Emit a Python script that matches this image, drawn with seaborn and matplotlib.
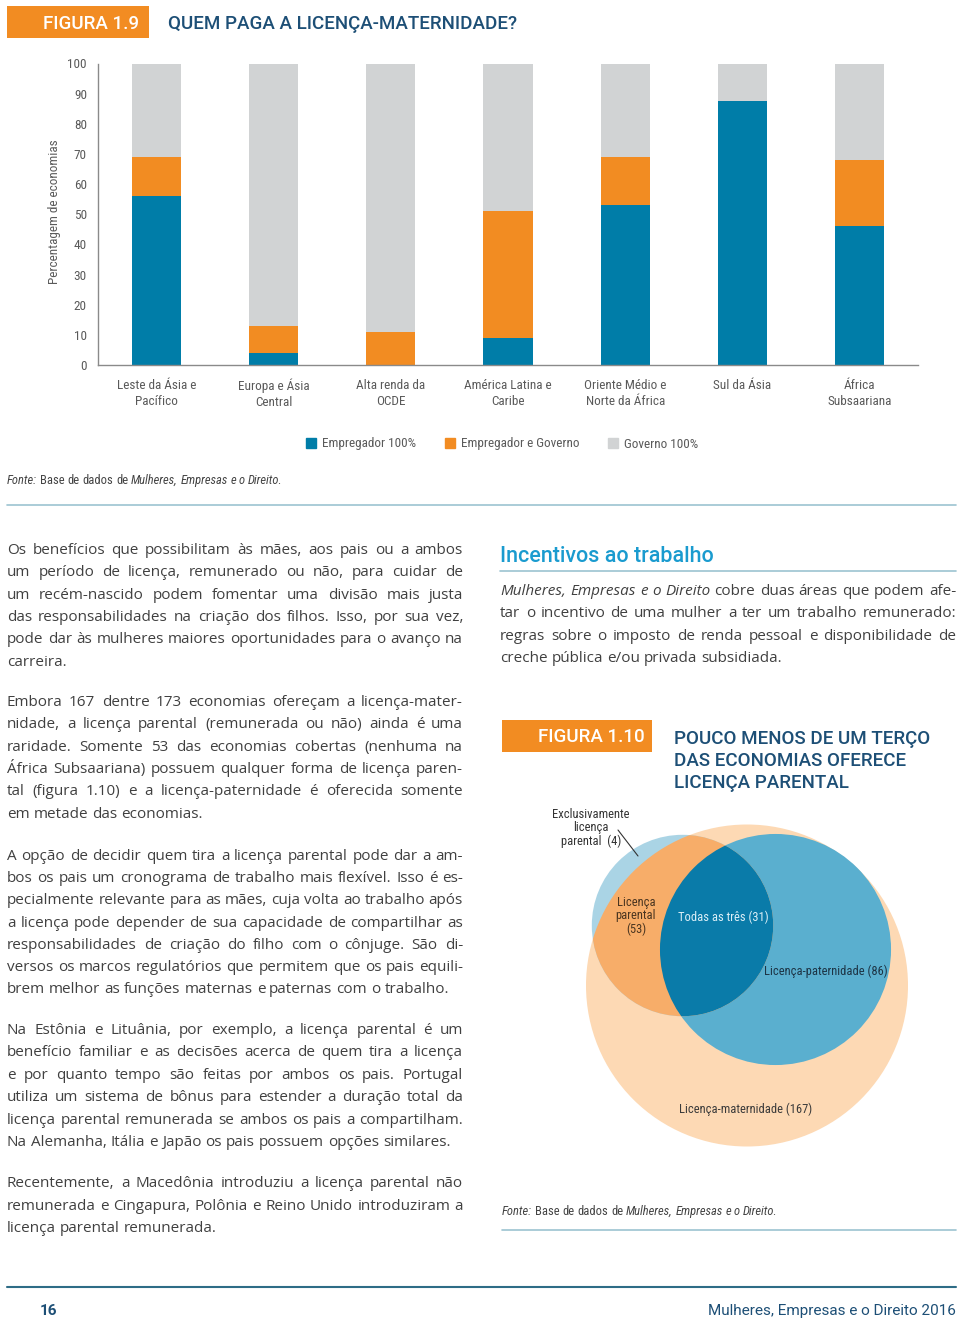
import numpy as np
import pandas as pd
import matplotlib
matplotlib.use("Agg")
import matplotlib.pyplot as plt
from matplotlib import font_manager
from matplotlib.patches import Circle, Rectangle, Patch
from matplotlib.lines import Line2D
import seaborn as sns

# ---- dados da figura 1.9 ----
regioes = ["Leste da Ásia e\nPacífico", "Europa e Ásia\nCentral", "Alta renda da\nOCDE",
           "América Latina e\nCaribe", "Oriente Médio e\nNorte da África", "Sul da Ásia",
           "África\nSubsaariana"]
empregador = [56, 4, 0, 9, 53, 87.5, 46]
empregador_governo = [13, 9, 11, 42, 16, 0, 22]
governo = [31, 87, 89, 49, 31, 12.5, 32]
series = ["Empregador 100%", "Empregador e Governo", "Governo 100%"]
yticks = [0, 10, 20, 30, 40, 50, 60, 70, 80, 90, 100]

# ---- dados da figura 1.10 ----
n_maternidade = 167
n_paternidade = 86
n_parental = 53
n_todas = 31
n_so_parental = 4

AZUL = "#007DA8"
LARANJA = "#F28C22"
CINZA = "#D1D3D4"
TITULO = "#1D4F76"
TEXTO = "#404040"
CINZA_TXT = "#5a5a5a"
LINHA = "#9CC3D1"

W, H = 960, 1324


def disponivel(nomes):
    for n in nomes:
        try:
            font_manager.findfont(font_manager.FontProperties(family=n), fallback_to_default=False)
            return n
        except ValueError:
            pass
    return "DejaVu Sans"


sns.set_style("white")
COND = disponivel(["Liberation Sans Narrow", "Roboto Condensed", "Open Sans Condensed", "Lato"])
CORPO = disponivel(["Open Sans", "Lato", "Noto Sans"])
CAB = disponivel(["Roboto", "Inter", "Noto Sans"])
plt.rcParams["font.family"] = [CORPO, "DejaVu Sans"]

fig = plt.figure(figsize=(W / 100, H / 100), dpi=100, facecolor="white")
renderer = fig.canvas.get_renderer()


def fx(x):
    return x / W


def fy(y):
    return 1 - y / H


def hline(x0, x1, y, cor=LINHA, lw=1.2):
    fig.add_artist(Line2D([fx(x0), fx(x1)], [fy(y), fy(y)], transform=fig.transFigure, color=cor, lw=lw))


def caixa(x0, y0, x1, y1, cor):
    fig.add_artist(Rectangle((fx(x0), fy(y1)), (x1 - x0) / W, (y1 - y0) / H,
                             transform=fig.transFigure, color=cor, lw=0))


_cache = {}


def largura(s, estilo, tam, familia):
    k = (s, estilo, tam, familia)
    if k not in _cache:
        t = fig.text(0, 0, s, fontsize=tam, fontstyle=estilo, family=familia)
        _cache[k] = t.get_window_extent(renderer).width
        t.remove()
    return _cache[k]


def tokens(linha):
    out, ital = [], False
    for w in linha.split(" "):
        if w.startswith("*"):
            ital, w = True, w[1:]
        fim = w.endswith("*")
        if fim:
            w = w[:-1]
        out.append((w, "italic" if ital else "normal"))
        if fim:
            ital = False
    return out


def escreve(x0, yb, texto, tam, familia, cor, total=None):
    toks = tokens(texto)
    ws = [largura(w, e, tam, familia) for w, e in toks]
    esp = largura("a a", "normal", tam, familia) - largura("aa", "normal", tam, familia)
    if total and len(toks) > 1:
        esp = (total - sum(ws)) / (len(toks) - 1)
    x = x0
    for (w, e), lw in zip(toks, ws):
        fig.text(fx(x), fy(yb), w, fontsize=tam, fontstyle=e, family=familia, color=cor,
                 va="baseline", ha="left")
        x += lw + esp


def paragrafo(x0, x1, y0, linhas, tam=11.0, lh=22.3):
    for i, l in enumerate(linhas):
        just = (x1 - x0) if i < len(linhas) - 1 else None
        escreve(x0, y0 + i * lh, l, tam, CORPO, TEXTO, just)


# ---------------- figura 1.9 ----------------
caixa(7, 6, 149, 38, LARANJA)
fig.text(fx(139), fy(29), "FIGURA 1.9", color="white", fontsize=13.5, family=CAB,
         fontweight="medium", ha="right", va="baseline")
fig.text(fx(168), fy(29), "QUEM PAGA A LICENÇA-MATERNIDADE?", color=TITULO, fontsize=13.5,
         family=CAB, fontweight="medium", ha="left", va="baseline")

ax = fig.add_axes([fx(98), fy(365), (918 - 98) / W, (365 - 63.5) / H])
df = pd.DataFrame({"regiao": regioes, "emp": empregador, "misto": empregador_governo, "gov": governo})
df["topo_misto"] = df["emp"] + df["misto"]
df["topo_gov"] = df["topo_misto"] + df["gov"]
sns.barplot(data=df, x="regiao", y="topo_gov", color=CINZA, saturation=1, width=0.42, linewidth=0, ax=ax)
sns.barplot(data=df, x="regiao", y="topo_misto", color=LARANJA, saturation=1, width=0.42, linewidth=0, ax=ax)
sns.barplot(data=df, x="regiao", y="emp", color=AZUL, saturation=1, width=0.42, linewidth=0, ax=ax)
ax.set_xlim(-0.5, 6.5)
ax.set_ylim(0, 100)
ax.set_yticks(yticks)
ax.set_xlabel("")
ax.set_ylabel("Percentagem de economias", fontsize=9.5, color=CINZA_TXT, family=COND)
ax.yaxis.set_label_coords(-0.045, 0.51)
sns.despine(ax=ax)
for s in ["left", "bottom"]:
    ax.spines[s].set_color("#8a8a8a")
    ax.spines[s].set_linewidth(1)
ax.tick_params(axis="y", length=5, width=0.8, color="#8a8a8a", labelcolor=CINZA_TXT, labelsize=9.5, pad=3)
ax.tick_params(axis="x", length=0, labelcolor=CINZA_TXT, labelsize=9.5, pad=10)
for lbl in ax.get_xticklabels() + ax.get_yticklabels():
    lbl.set_family(COND)
for lbl in ax.get_xticklabels():
    lbl.set_linespacing(1.3)

handles = [Patch(color=c) for c in [AZUL, LARANJA, CINZA]]
leg = ax.legend(handles, series, loc="center", bbox_to_anchor=(fx(502), fy(444)),
                bbox_transform=fig.transFigure, ncol=3, frameon=False, handlelength=0.75,
                handleheight=0.75, handletextpad=0.45, columnspacing=2.2,
                prop={"family": COND, "size": 9.5})
for t in leg.get_texts():
    t.set_color(CINZA_TXT)

escreve(7, 484, "*Fonte:* Base de dados de *Mulheres, Empresas e o Direito.*", 9, COND, "#444444")
hline(7, 956, 505)

# ---------------- texto ----------------
paragrafo(7, 463, 554, [
    "Os benefícios que possibilitam às mães, aos pais ou a ambos",
    "um período de licença, remunerado ou não, para cuidar de",
    "um recém-nascido podem fomentar uma divisão mais justa",
    "das responsabilidades na criação dos filhos. Isso, por sua vez,",
    "pode dar às mulheres maiores oportunidades para o avanço na",
    "carreira."])
paragrafo(7, 463, 706, [
    "Embora 167 dentre 173 economias ofereçam a licença-mater-",
    "nidade, a licença parental (remunerada ou não) ainda é uma",
    "raridade. Somente 53 das economias cobertas (nenhuma na",
    "África Subsaariana) possuem qualquer forma de licença paren-",
    "tal (figura 1.10) e a licença-paternidade é oferecida somente",
    "em metade das economias."])
paragrafo(7, 463, 860, [
    "A opção de decidir quem tira a licença parental pode dar a am-",
    "bos os pais um cronograma de trabalho mais flexível. Isso é es-",
    "pecialmente relevante para as mães, cuja volta ao trabalho após",
    "a licença pode depender de sua capacidade de compartilhar as",
    "responsabilidades de criação do filho com o cônjuge. São di-",
    "versos os marcos regulatórios que permitem que os pais equili-",
    "brem melhor as funções maternas e paternas com o trabalho."], lh=22.2)
paragrafo(7, 463, 1034, [
    "Na Estônia e Lituânia, por exemplo, a licença parental é um",
    "benefício familiar e as decisões acerca de quem tira a licença",
    "e por quanto tempo são feitas por ambos os pais. Portugal",
    "utiliza um sistema de bônus para estender a duração total da",
    "licença parental remunerada se ambos os pais a compartilham.",
    "Na Alemanha, Itália e Japão os pais possuem opções similares."], lh=22.4)
paragrafo(7, 463, 1187, [
    "Recentemente, a Macedônia introduziu a licença parental não",
    "remunerada e Cingapura, Polônia e Reino Unido introduziram a",
    "licença parental remunerada."], lh=22.5)

fig.text(fx(500), fy(562), "Incentivos ao trabalho", color="#1A9BCF", fontsize=15.5, family=CAB,
         fontweight="medium", ha="left", va="baseline")
hline(500, 956, 571)
paragrafo(500, 956, 595, [
    "*Mulheres, Empresas e o Direito* cobre duas áreas que podem afe-",
    "tar o incentivo de uma mulher a ter um trabalho remunerado:",
    "regras sobre o imposto de renda pessoal e disponibilidade de",
    "creche pública e/ou privada subsidiada."])

# ---------------- figura 1.10 ----------------
caixa(502, 720, 652, 752, LARANJA)
fig.text(fx(645), fy(742.5), "FIGURA 1.10", color="white", fontsize=13.5, family=CAB,
         fontweight="medium", ha="right", va="baseline")
for i, l in enumerate(["POUCO MENOS DE UM TERÇO", "DAS ECONOMIAS OFERECE", "LICENÇA PARENTAL"]):
    fig.text(fx(674), fy(743.5 + 22 * i), l, color=TITULO, fontsize=13.5, family=CAB,
             fontweight="medium", ha="left", va="baseline")

axv = fig.add_axes([fx(540), fy(1160), 400 / W, 360 / H])
axv.set_xlim(540, 940)
axv.set_ylim(1160, 800)
axv.axis("off")
R = 161
r_mat = R
r_pat = R * np.sqrt(n_paternidade / n_maternidade)
r_par = R * np.sqrt(n_parental / n_maternidade)
c_mat = Circle((747, 985.5), r_mat, facecolor="#FDD9B4", lw=0, zorder=1)
c_pat = Circle((775.5, 949.5), r_pat, facecolor="#5AAFCF", lw=0, zorder=2)
c_par = Circle((682.5, 925.5), r_par, facecolor="#AAD4E5", lw=0, zorder=3)
c_par_mat = Circle((682.5, 925.5), r_par, facecolor="#F7AD69", lw=0, zorder=4)
c_par_pat = Circle((682.5, 925.5), r_par, facecolor="#0A7BA9", lw=0, zorder=5)
for p in [c_mat, c_pat, c_par, c_par_mat, c_par_pat]:
    axv.add_patch(p)
c_par_mat.set_clip_path(c_mat)
c_par_pat.set_clip_path(c_pat)

vk = dict(family=COND, fontsize=9, ha="center", va="center", zorder=6)
axv.text(591, 828, f"Exclusivamente\nlicença\nparental  ({n_so_parental})", color="#333333",
         linespacing=1.05, **vk)
axv.plot([618, 638], [830, 856], color="#333333", lw=0.8, zorder=6)
axv.text(636, 916, f"Licença\nparental\n({n_parental})", color="#4a3520", linespacing=1.05, **vk)
axv.text(723, 917, f"Todas as três ({n_todas})", color="#DCEFF7", **vk)
axv.text(826, 971, f"Licença-paternidade ({n_paternidade})", color="#1d3445", **vk)
axv.text(746, 1109, f"Licença-maternidade ({n_maternidade})", color="#3a3a3a", **vk)

escreve(502, 1215, "*Fonte:* Base de dados de *Mulheres, Empresas e o Direito.*", 9, COND, "#444444")
hline(502, 956, 1230)

# ---------------- rodapé ----------------
hline(7, 956, 1287, cor="#2E6C86", lw=1.5)
fig.text(fx(40), fy(1315), "16", color=TITULO, fontsize=11, family=CAB, fontweight="bold",
         ha="left", va="baseline")
fig.text(fx(956), fy(1315), "Mulheres, Empresas e o Direito 2016", color=TITULO, fontsize=11,
         family=CAB, ha="right", va="baseline")

fig.savefig("out.png", dpi=100, facecolor="white")
